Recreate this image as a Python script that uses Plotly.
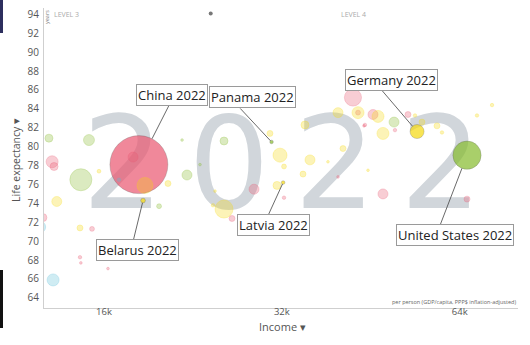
import math
import plotly.graph_objects as go

YEAR = 2022

# Highlighted countries
hl_names = ["China", "Germany", "United States", "Panama", "Latvia", "Belarus"]
hl_region = ["asia", "europe", "americas", "americas", "europe", "europe"]
hl_income = [18330, 54200, 65850, 30740, 32160, 18630]
hl_life = [78.1, 81.6, 79.1, 80.5, 76.2, 74.3]
hl_pop = [1426, 83.4, 338, 4.4, 1.85, 9.5]

# Other countries (shown faded)
fd_income = [12910, 15090, 13070, 13170, 14620, 13310, 12450, 12610, 13120, 14570,
             14620, 16250, 14570, 15270, 19830, 20530, 15690, 22110, 21690, 25540,
             30550, 31770, 32270, 23260, 35710, 34750, 40610, 35020, 28710, 31400,
             32270, 25540, 26350, 24470, 24660, 38300, 39830, 42220, 39830, 43060,
             43060, 45650, 46550, 52320, 53770, 49550, 47460, 49730, 44240, 55250,
             58580, 59730, 72600, 68460, 47460, 65850, 44770, 44080, 17920, 16960,
             18770]
fd_life = [80.9, 80.7, 78.4, 77.9, 76.5, 74.2, 71.5, 72.5, 65.9, 68.3,
           67.7, 67.1, 71.4, 71.3, 73.7, 76.1, 77.4, 77.0, 80.7, 80.6,
           81.4, 79.1, 77.9, 78.1, 78.6, 77.1, 79.8, 82.3, 75.5, 75.9,
           74.6, 73.4, 72.4, 73.8, 75.3, 78.4, 76.8, 85.2, 83.6, 83.6,
           83.6, 83.4, 83.2, 83.4, 83.3, 82.6, 81.4, 81.75, 82.3, 82.6,
           82.2, 81.5, 84.4, 83.3, 75.0, 74.45, 77.5, 82.2, 78.9, 76.5,
           75.9]
fd_pop = [27, 51, 61, 27, 205, 42, 61, 27, 61, 5,
          3, 3, 15, 10, 10, 15, 6, 42, 3, 27,
          15, 83, 10, 3, 42, 15, 15, 27, 42, 27,
          5, 137, 15, 5, 3, 3, 3, 124, 42, 61,
          10, 42, 61, 15, 5, 42, 61, 5, 5, 15,
          15, 5, 5, 5, 42, 15, 3, 3, 42, 5,
          108]
fd_region = ["americas", "americas", "asia", "asia", "americas", "europe", "africa", "asia", "africa", "asia",
             "asia", "asia", "europe", "asia", "americas", "europe", "europe", "americas", "americas", "americas",
             "europe", "europe", "europe", "americas", "europe", "europe", "europe", "europe", "asia", "europe",
             "asia", "europe", "asia", "europe", "europe", "europe", "asia", "asia", "europe", "europe",
             "asia", "asia", "europe", "asia", "europe", "americas", "europe", "asia", "asia", "europe",
             "europe", "europe", "europe", "europe", "asia", "asia", "europe", "asia", "asia", "africa",
             "europe"]

x_ticks = [16000, 32000, 64000]
x_tick_text = ["16k", "32k", "64k"]
y_ticks = list(range(64, 95, 2))

REGION_RGB = {
    "asia": (234, 87, 112),
    "europe": (246, 217, 12),
    "americas": (133, 187, 44),
    "africa": (92, 190, 218),
}

W, H = 530, 345
M = dict(l=44, r=12, t=8, b=37)
PW, PH = W - M["l"] - M["r"], H - M["t"] - M["b"]
X_RANGE = [4.10255, 4.90487]
Y_RANGE = [62.93, 94.67]


def px_x(px):
    return (px - M["l"]) / PW


def px_y(py):
    return (H - M["b"] - py) / PH


def data_x(px):
    # pixel column -> income on the log axis
    return 10 ** (X_RANGE[0] + px_x(px) * (X_RANGE[1] - X_RANGE[0]))


def data_y(py):
    return Y_RANGE[0] + px_y(py) * (Y_RANGE[1] - Y_RANGE[0])


SIZEREF = 2 * max(hl_pop) / 58 ** 2
FONT = "Open Sans, Noto Sans, sans-serif"

fig = go.Figure()

# Year watermark behind the bubbles, one glyph per slot for wide tracking
digits = list(str(YEAR))
slot_px = [123 + 106 * k for k in range(len(digits))]
fig.add_trace(go.Scatter(
    x=[data_x(p) for p in slot_px], y=[data_y(176)] * len(digits),
    mode="text", text=digits,
    textfont=dict(size=128, color="#d1d6db", family="DejaVu Sans"),
    hoverinfo="skip", showlegend=False,
))

# Highlighted bubbles
for i, name in enumerate(hl_names):
    r, g, b = REGION_RGB[hl_region[i]]
    fig.add_trace(go.Scatter(
        x=[hl_income[i]], y=[hl_life[i]], mode="markers", name=name,
        marker=dict(size=[hl_pop[i]], sizemode="area", sizeref=SIZEREF, sizemin=1.8,
                    color=f"rgb({r},{g},{b})",
                    line=dict(color="rgba(40,40,40,0.4)", width=0.7)),
        showlegend=False,
    ))

# Faded bubbles, one trace per region
for reg, (r, g, b) in REGION_RGB.items():
    idx = [i for i, v in enumerate(fd_region) if v == reg]
    fig.add_trace(go.Scatter(
        x=[fd_income[i] for i in idx], y=[fd_life[i] for i in idx], mode="markers",
        marker=dict(size=[fd_pop[i] for i in idx], sizemode="area", sizeref=SIZEREF, sizemin=1.2,
                    color=f"rgba({r},{g},{b},0.42)",
                    line=dict(color=f"rgba({r},{g},{b},0.55)", width=0.7)),
        showlegend=False, hoverinfo="skip",
    ))

# Small dark marker near the top
fig.add_trace(go.Scatter(
    x=[24250], y=[94.1], mode="markers",
    marker=dict(size=4, color="#777"), showlegend=False, hoverinfo="skip",
))

annotations = []

# Label boxes: (box shift x, box shift y, leader tail x, leader tail y)
label_layout = {
    "China": (33.5, 70, 31, -61),
    "Germany": (-25.3, 51.2, -37.3, -43.7),
    "United States": (-11.8, -80, -27.3, 71),
    "Panama": (-18.7, 44.5, -32.7, -35),
    "Latvia": (-9.3, -42.8, -16, 35),
    "Belarus": (-5.5, -49.5, -10, 41),
}
for i, name in enumerate(hl_names):
    bx, by, tx, ty = label_layout[name]
    radius = (hl_pop[i] / 2 / SIZEREF) ** 0.5
    lx = math.log10(hl_income[i])
    # leader line from the label to the bubble edge
    annotations.append(dict(
        x=lx, y=hl_life[i], xref="x", yref="y", text="",
        showarrow=True, arrowhead=0, arrowwidth=0.8, arrowcolor="#444",
        ax=tx, ay=ty, standoff=max(radius, 1.5),
    ))
    annotations.append(dict(
        x=lx, y=hl_life[i], xref="x", yref="y",
        text=f"{name} {YEAR}", showarrow=False, xshift=bx, yshift=by,
        xanchor="center", yanchor="middle",
        font=dict(family=FONT, size=13, color="#222"),
        bgcolor="white", bordercolor="#9a9a9a", borderwidth=1, borderpad=1,
    ))


# Axis titles and small captions
def caption(px, py, text, size, color, angle=0, xanchor="center"):
    return dict(x=px_x(px), y=px_y(py), xref="paper", yref="paper", text=text,
                textangle=angle, showarrow=False, xanchor=xanchor, yanchor="middle",
                font=dict(family=FONT, size=size, color=color))


annotations += [
    caption(282, 326, "Income ▾", 11, "#555"),
    caption(16, 160, "Life expectancy ▾", 10.5, "#555", angle=-90),
    caption(47, 17, "years", 5.5, "#777", angle=-90),
    caption(66, 14.5, "LEVEL 3", 7, "#aaa"),
    caption(353, 14.5, "LEVEL 4", 7, "#aaa"),
    caption(518, 301.5, "per person (GDP/capita, PPP$ inflation-adjusted)", 5.5, "#666",
            xanchor="right"),
]

shapes = [
    dict(type="rect", xref="paper", yref="paper", x0=px_x(0), x1=px_x(3),
         y0=px_y(33), y1=px_y(0), fillcolor="#2d2f5e", line=dict(width=0), layer="above"),
    dict(type="rect", xref="paper", yref="paper", x0=px_x(0), x1=px_x(3),
         y0=px_y(328), y1=px_y(270), fillcolor="#111", line=dict(width=0), layer="above"),
]

fig.update_layout(
    width=W, height=H, autosize=False, margin=dict(**M, pad=0),
    paper_bgcolor="white", plot_bgcolor="white",
    annotations=annotations, shapes=shapes, showlegend=False,
    xaxis=dict(type="log", range=X_RANGE, tickvals=x_ticks, ticktext=x_tick_text,
               showgrid=False, zeroline=False, showline=True, linecolor="#cfcfcf", linewidth=1,
               ticks="", tickfont=dict(family=FONT, size=9.5, color="#555"), ticklabelstandoff=-5),
    yaxis=dict(range=Y_RANGE, tickvals=y_ticks,
               showgrid=False, zeroline=False, showline=True, linecolor="#cfcfcf", linewidth=1,
               ticks="", tickfont=dict(family=FONT, size=10, color="#555"), ticklabelstandoff=2),
)

fig.write_html("out.html")
